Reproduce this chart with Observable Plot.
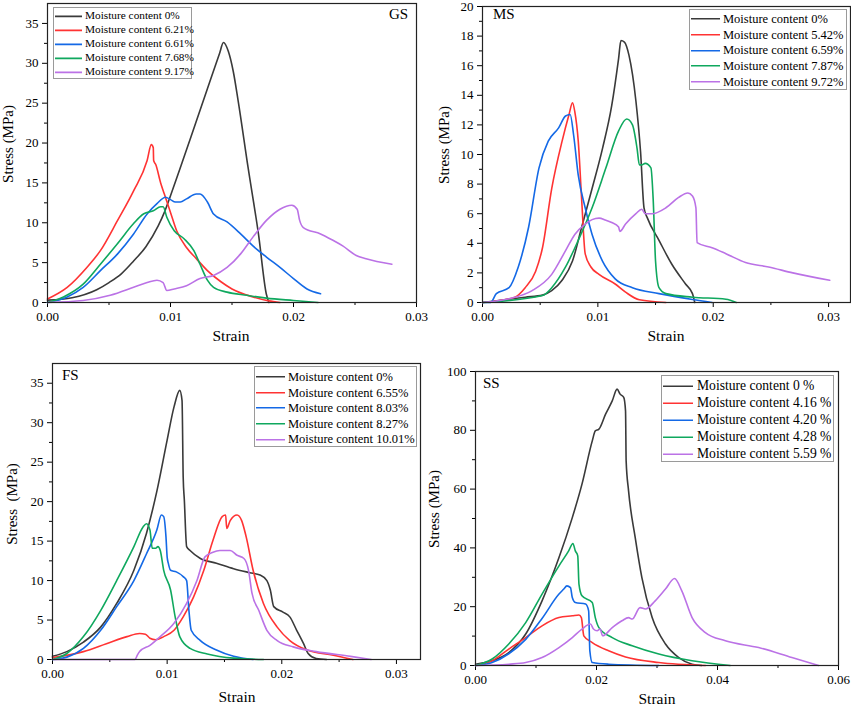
<!DOCTYPE html>
<html><head><meta charset="utf-8">
<script src="https://cdn.jsdelivr.net/npm/d3@7"></script>
<script src="https://cdn.jsdelivr.net/npm/@observablehq/plot@0.6"></script>
<style>
body{margin:0;background:#fff;}
#wrap{position:relative;width:851px;height:707px;font-family:"Liberation Serif","Times New Roman",Times,serif;color:#000;overflow:hidden;}
#wrap div, #wrap span{font-family:"Liberation Serif","Times New Roman",Times,serif;font-weight:normal;}
#wrap svg text{font-family:"Liberation Serif","Times New Roman",Times,serif !important;}
.pl{position:absolute;}
.pl svg{overflow:visible;}
.lbl{position:absolute;white-space:nowrap;font-size:15px;line-height:1;}
.ylab{position:absolute;white-space:nowrap;font-size:15px;line-height:1;transform:translate(-50%,-50%) rotate(-90deg);}
.leg{position:absolute;border:1px solid #9a9a9a;background:#fff;box-sizing:border-box;}
.row{position:absolute;left:0;white-space:nowrap;display:flex;align-items:center;line-height:1;}
</style></head>
<body><div id="wrap"></div>
<script>
const colors = ["#3a3a3a", "#ff3333", "#1469e6", "#0fa85e", "#bb72e6"];

// ---- GS ----
const gsLabels = ["Moisture content 0%","Moisture content 6.21%","Moisture content 6.61%","Moisture content 7.68%","Moisture content 9.17%"];
const gs0 = [[0,0.3],[0.002,0.6],[0.004,1.6],[0.005,2.5],[0.006,3.6],[0.007,5.2],[0.008,7.0],[0.009,9.6],[0.0095,11.3],[0.010,13.4],[0.011,17.8],[0.012,22.3],[0.013,26.8],[0.014,31.3],[0.0143,32.6],[0.0147,31.5],[0.0151,29.0],[0.0155,25.3],[0.0163,17.0],[0.01715,8.6],[0.0178,1.0],[0.018,0]];
const gs1 = [[0,0.45],[0.0016,1.9],[0.0032,4.4],[0.0043,6.5],[0.0057,10.3],[0.007,14],[0.0081,17.8],[0.00844,19.8],[0.0086,19.4],[0.00863,17.8],[0.0088,17.3],[0.0092,15.0],[0.0095,13.6],[0.0100,11.3],[0.0105,9.0],[0.0113,6.9],[0.0121,5.5],[0.013,4.0],[0.0141,2.6],[0.015,1.7],[0.0167,0.7],[0.018,0.2],[0.0189,0]];
const gs2 = [[0,0],[0.0016,0.7],[0.0029,1.9],[0.0043,4],[0.0057,6.1],[0.007,8.6],[0.0081,11.1],[0.0089,12.4],[0.0096,13.2],[0.0100,12.9],[0.0104,12.6],[0.0108,12.6],[0.0113,13.0],[0.0121,13.6],[0.0124,13.6],[0.0130,12.6],[0.0135,11.1],[0.0146,10.1],[0.0157,8.6],[0.0167,7.1],[0.0178,5.7],[0.0189,4.4],[0.02,3.0],[0.0211,1.7],[0.0222,1.1]];
const gs3 = [[0,0],[0.0013,0.7],[0.0029,2.3],[0.0043,4.8],[0.0057,7.4],[0.007,9.9],[0.0078,11.1],[0.0081,11.3],[0.0086,11.5],[0.0092,12.0],[0.0094,12.0],[0.0097,10.7],[0.0103,9.0],[0.0111,8.0],[0.0119,6.5],[0.0124,4.8],[0.013,2.8],[0.0135,1.9],[0.0146,1.3],[0.0162,0.9],[0.0178,0.55],[0.02,0.25],[0.022,0]];
const gs4 = [[0,0],[0.0029,0.25],[0.0051,0.9],[0.007,1.9],[0.0081,2.5],[0.0089,2.8],[0.0094,2.5],[0.0097,1.5],[0.0103,1.7],[0.0113,2.1],[0.0124,3.0],[0.0135,3.4],[0.0146,4.4],[0.0157,6.1],[0.0167,8.2],[0.0178,10.3],[0.0189,11.7],[0.01986,12.2],[0.0203,11.7],[0.0205,10.3],[0.0208,9.4],[0.0222,8.6],[0.0232,7.8],[0.024,7.1],[0.0251,5.9],[0.0259,5.5],[0.028,4.8]];

// ---- MS ----
const msLabels = ["Moisture content 0%","Moisture content 5.42%","Moisture content 6.59%","Moisture content 7.87%","Moisture content 9.72%"];
const ms0 = [[0,0],[0.0014,0.14],[0.0037,0.36],[0.0052,0.5],[0.006,0.8],[0.0069,1.5],[0.0078,2.8],[0.0086,5.1],[0.0095,7.7],[0.0104,10.4],[0.0112,13.3],[0.0118,16.5],[0.012,17.7],[0.0123,17.6],[0.0127,16.7],[0.0133,13.6],[0.0137,10.2],[0.014,6.4],[0.0143,5.7],[0.0153,4.2],[0.0164,2.6],[0.0176,1.25],[0.0182,0.6],[0.0184,0]];
const ms1 = [[0,0],[0.0028,0.36],[0.0037,1.0],[0.0046,2.1],[0.0052,3.7],[0.006,7.7],[0.0069,10.9],[0.0075,12.7],[0.0078,13.5],[0.008,12.9],[0.0083,10.9],[0.0086,6.9],[0.0089,3.3],[0.0094,2.4],[0.0101,1.9],[0.0115,1.25],[0.0124,0.7],[0.0136,0.18],[0.0159,0]];
const ms2 = [[0,0],[0.0007,0],[0.0012,0.6],[0.0023,1.0],[0.0031,2.4],[0.004,5.1],[0.0049,9.1],[0.0057,10.9],[0.0066,11.8],[0.0072,12.6],[0.0076,12.7],[0.0079,11.3],[0.0083,8.6],[0.0089,6.4],[0.0095,4.6],[0.0104,2.8],[0.0115,1.6],[0.013,1.0],[0.0153,0.6],[0.0182,0.2],[0.0199,0]];
const ms3 = [[0,0],[0.0052,0.47],[0.006,1.0],[0.0072,2.4],[0.0083,4.2],[0.0095,6.4],[0.0107,9.1],[0.0118,11.6],[0.0125,12.4],[0.013,12.0],[0.0134,10.4],[0.0136,9.3],[0.0138,9.3],[0.0141,9.4],[0.0146,9.1],[0.0148,6.9],[0.015,2.8],[0.0153,1.0],[0.0159,0.6],[0.0182,0.36],[0.0211,0.22],[0.022,0]];
const ms4 = [[0,0],[0.0023,0.25],[0.0043,0.8],[0.006,1.9],[0.0072,3.5],[0.008,4.6],[0.0089,5.3],[0.0095,5.6],[0.0101,5.7],[0.0107,5.55],[0.0112,5.4],[0.0118,5.1],[0.0119,4.8],[0.0124,5.3],[0.0133,6.0],[0.0138,6.3],[0.0141,6.0],[0.0147,6.0],[0.0159,6.4],[0.017,7.1],[0.0178,7.4],[0.0182,7.2],[0.0185,6.4],[0.0186,4.05],[0.0199,3.7],[0.0211,3.3],[0.0228,2.7],[0.0248,2.4],[0.0269,2.0],[0.0301,1.5]];

// ---- FS ----
const fsLabels = ["Moisture content 0%","Moisture content 6.55%","Moisture content 8.03%","Moisture content 8.27%","Moisture content 10.01%"];
const fs0 = [[0,0.4],[0.00125,1.0],[0.0027,2.2],[0.0042,4.1],[0.0056,7.1],[0.0071,11.3],[0.0082,16],[0.0091,21.3],[0.01,27.8],[0.0106,32],[0.0111,34.1],[0.0113,32.8],[0.0114,23.1],[0.0115,20.2],[0.0117,14.3],[0.012,13.8],[0.0129,12.8],[0.0143,12.2],[0.0158,11.5],[0.0172,11.0],[0.0181,10.7],[0.0187,10.0],[0.019,8.8],[0.0193,6.7],[0.0201,6.0],[0.0207,5.4],[0.0213,3.7],[0.0219,2.0],[0.0223,0.76],[0.023,0.13],[0.0239,0]];
const fs1 = [[0,0.25],[0.0027,1.0],[0.0047,2.0],[0.0065,2.9],[0.0076,3.3],[0.0081,3.2],[0.0085,2.7],[0.009,2.5],[0.0097,2.9],[0.0106,3.7],[0.0114,5.4],[0.0123,7.9],[0.0132,11.3],[0.014,15.1],[0.0148,18.1],[0.0151,18.3],[0.0152,16.6],[0.0155,17.6],[0.0161,18.3],[0.0165,17.6],[0.0169,15.5],[0.0175,11.3],[0.0184,7.1],[0.0196,4.1],[0.0207,2.4],[0.0222,1.2],[0.0245,0.55],[0.0262,0]];
const fs2 = [[0,0],[0.00125,0.3],[0.0027,1.4],[0.0042,3.7],[0.0056,6.7],[0.0071,10.0],[0.0082,13.4],[0.0091,16.4],[0.0095,18.3],[0.0097,18.1],[0.0099,15.5],[0.01,13.0],[0.0101,12.2],[0.0103,11.3],[0.0108,11.1],[0.0114,10.5],[0.0117,10.0],[0.0119,6.2],[0.0121,3.7],[0.0129,2.4],[0.0143,1.2],[0.0158,0.4],[0.0175,0]];
const fs3 = [[0,0],[0.00125,0.76],[0.0027,2.9],[0.0042,6.2],[0.0056,10.0],[0.0071,14.3],[0.0079,16.8],[0.0082,17.2],[0.0085,16.4],[0.0087,14.1],[0.009,14.1],[0.0092,14.3],[0.0094,13.8],[0.0097,11.3],[0.0103,8.8],[0.0107,5.4],[0.0111,2.9],[0.012,1.4],[0.0135,0.7],[0.0158,0.17],[0.0184,0]];
const fs4 = [[0,0],[0.0072,0],[0.0074,0.55],[0.0076,1.0],[0.0085,1.8],[0.0094,2.9],[0.0106,4.6],[0.0117,7.1],[0.0126,10.0],[0.0133,13.0],[0.014,13.6],[0.0146,13.8],[0.0155,13.8],[0.0161,13.2],[0.0167,12.8],[0.0171,11.3],[0.0174,8.4],[0.018,6.2],[0.0187,3.7],[0.0196,2.4],[0.021,1.6],[0.023,1.0],[0.026,0.4],[0.0278,0]];

// ---- SS ----
const ssLabels = ["Moisture content 0 %","Moisture content 4.16 %","Moisture content 4.20 %","Moisture content 4.28 %","Moisture content 5.59 %"];
const ss0 = [[0,0.45],[0.00275,1.6],[0.0055,4.4],[0.0083,10.7],[0.011,22],[0.0138,36.7],[0.016,50.3],[0.0176,61.7],[0.0193,76.4],[0.0198,79.8],[0.0204,80.4],[0.0215,85.5],[0.0226,90],[0.0234,94],[0.0239,92.3],[0.0245,91.2],[0.0248,86.6],[0.0249,69.6],[0.0253,59.4],[0.0264,43.5],[0.0275,29.9],[0.0292,16.3],[0.0314,7.3],[0.0336,2.7],[0.0358,0.45],[0.0374,0]];
const ss1 = [[0,0],[0.00275,1.6],[0.0055,5.6],[0.0083,9.5],[0.011,13.5],[0.0138,16.3],[0.016,16.9],[0.0171,17.2],[0.0175,16.3],[0.0179,10.1],[0.0193,7.8],[0.022,5.0],[0.0248,2.9],[0.0303,1.0],[0.038,0]];
const ss2 = [[0,0],[0.00275,1.0],[0.0055,4.0],[0.0083,8.9],[0.011,16.0],[0.0138,24.3],[0.0146,26],[0.0151,27.1],[0.0157,26.5],[0.016,23.1],[0.0165,21.4],[0.0182,20.9],[0.0187,18.6],[0.0189,5.0],[0.0193,1.0],[0.022,0.45],[0.0303,0]];
const ss3 = [[0,0],[0.00275,2.2],[0.0055,7.3],[0.0083,14.6],[0.011,24.3],[0.0138,33.9],[0.0154,39],[0.0161,41.5],[0.0165,39],[0.0169,37.3],[0.0171,27.7],[0.0176,23.7],[0.0193,21.4],[0.0198,16.3],[0.0204,12.9],[0.0226,9.5],[0.0259,6.7],[0.0303,3.9],[0.0358,1.6],[0.0421,0]];
const ss4 = [[0,0],[0.0055,0.45],[0.0083,1.0],[0.011,2.7],[0.0138,6.1],[0.016,9.5],[0.0176,12.4],[0.019,14.1],[0.0195,12.4],[0.0201,11.8],[0.0206,12.4],[0.021,10.1],[0.0226,12.9],[0.0242,15.2],[0.0253,16.3],[0.0259,15.8],[0.0272,19.7],[0.0281,19.2],[0.0297,22.0],[0.0314,26.0],[0.0329,29.6],[0.0341,25.4],[0.0358,16.3],[0.038,11.2],[0.0413,8.4],[0.0468,6.1],[0.0523,2.7],[0.0567,0]];

const FONT = '"Liberation Serif", "Times New Roman", Times, serif';
const wrap = document.getElementById("wrap");

function addDiv(cls, text, css){
  const d = document.createElement("div");
  d.className = cls; d.textContent = text;
  Object.assign(d.style, css); wrap.appendChild(d); return d;
}

function panel(cfg){
  const data = cfg.series.flatMap((s, i) => s.map(([x, y]) => ({x, y, s: cfg.labels[i]})));
  const svg = Plot.plot({
    width: cfg.w, height: cfg.h,
    marginLeft: cfg.ml, marginRight: cfg.mr, marginTop: cfg.mt, marginBottom: cfg.mb,
    style: {fontFamily: FONT, fontSize: "13px", background: "transparent", color: "#000", overflow: "visible"},
    x: {domain: cfg.xdom},
    y: {domain: cfg.ydom},
    color: {domain: cfg.labels, range: colors},
    marks: [
      Plot.axisX(cfg.xminor, {tickSize: 3, tickFormat: () => "", label: null, strokeWidth: 1}),
      Plot.axisX(cfg.xticks, {tickSize: 5, tickPadding: 4, tickFormat: d3.format(".2f"), label: null, fontSize: 13, strokeWidth: 1}),
      Plot.axisY(cfg.yminor, {tickSize: 3, tickFormat: () => "", label: null, strokeWidth: 1}),
      Plot.axisY(cfg.yticks, {tickSize: 5, tickPadding: 4, label: null, fontSize: 13, strokeWidth: 1}),
      Plot.line(data, {x: "x", y: "y", z: "s", stroke: "s", strokeWidth: 1.6, curve: "monotone-x"}),
      Plot.frame({stroke: "#222", strokeWidth: 1.2})
    ]
  });
  svg.setAttribute("font-family", FONT);
  const holder = document.createElement("div");
  holder.className = "pl";
  holder.style.left = cfg.left + "px"; holder.style.top = cfg.top + "px";
  holder.appendChild(svg);
  wrap.appendChild(holder);

  addDiv("lbl", "Strain", {left: cfg.xlab[0] + "px", top: cfg.xlab[1] + "px", transform: "translate(-50%,-100%)", fontSize: "15.5px"});
  addDiv("ylab", cfg.ytext, {left: cfg.ylab[0] + "px", top: cfg.ylab[1] + "px"});
  addDiv("lbl", cfg.name, {left: cfg.nameAt[0] + "px", top: cfg.nameAt[1] + "px", transform: "translateY(-100%)", fontSize: "15px"});

  const L = cfg.legend;
  const leg = document.createElement("div");
  leg.className = "leg";
  Object.assign(leg.style, {left: L.x + "px", top: L.y + "px", width: L.w + "px", height: L.h + "px"});
  cfg.labels.forEach((lab, i) => {
    const r = document.createElement("div");
    r.className = "row";
    r.style.top = (L.first + i * L.step - L.y) + "px";
    r.style.left = "1px";
    r.style.transform = "translateY(-50%)";
    r.style.fontSize = L.fs + "px";
    r.innerHTML = `<svg width="${L.sw}" height="6" style="margin-right:${L.gap}px"><line x1="0" x2="${L.sw}" y1="3" y2="3" stroke="${colors[i]}" stroke-width="1.6"/></svg>`;
    const t = document.createElement("span"); t.textContent = lab; r.appendChild(t);
    leg.appendChild(r);
  });
  wrap.appendChild(leg);
}

panel({name: "GS", nameAt: [389, 22], left: 0, top: 0, w: 425, h: 350, ml: 47, mr: 9, mt: 3, mb: 48,
  xdom: [0, 0.03], xticks: [0, 0.01, 0.02, 0.03], xminor: [0.005, 0.015, 0.025],
  ydom: [0, 37.5], yticks: d3.range(0, 36, 5), yminor: d3.range(2.5, 37, 5),
  series: [gs0, gs1, gs2, gs3, gs4], labels: gsLabels,
  xlab: [231, 343], ylab: [8, 144], ytext: "Stress (MPa)",
  legend: {x: 53, y: 7, w: 139, h: 72, first: 15, step: 14, fs: 11.3, sw: 27, gap: 3}});

panel({name: "MS", nameAt: [493, 22], left: 425, top: 0, w: 426, h: 350, ml: 57, mr: 1, mt: 6, mb: 48,
  xdom: [0, 0.0319], xticks: [0, 0.01, 0.02, 0.03], xminor: [0.005, 0.015, 0.025],
  ydom: [0, 20], yticks: d3.range(0, 21, 2), yminor: d3.range(1, 20, 2),
  series: [ms0, ms1, ms2, ms3, ms4], labels: msLabels,
  xlab: [666, 343], ylab: [444, 145], ytext: "Stress (MPa)",
  legend: {x: 689, y: 9, w: 158, h: 81, first: 18, step: 15.7, fs: 12.5, sw: 29, gap: 3}});

panel({name: "FS", nameAt: [62, 383], left: 0, top: 350, w: 425, h: 357, ml: 52, mr: 5, mt: 13, mb: 48,
  xdom: [0, 0.0321], xticks: [0, 0.01, 0.02, 0.03], xminor: [0.005, 0.015, 0.025],
  ydom: [0, 37.5], yticks: d3.range(0, 36, 5), yminor: d3.range(2.5, 37, 5),
  series: [fs0, fs1, fs2, fs3, fs4], labels: fsLabels,
  xlab: [237, 704], ylab: [12, 504], ytext: "Stress\u00a0 (MPa)",
  legend: {x: 254, y: 366, w: 163, h: 81, first: 376, step: 15.6, fs: 12.5, sw: 29, gap: 3}});

panel({name: "SS", nameAt: [483, 391], left: 425, top: 350, w: 426, h: 357, ml: 50, mr: 13, mt: 21, mb: 42,
  xdom: [0, 0.06], xticks: [0, 0.02, 0.04, 0.06], xminor: [0.01, 0.03, 0.05],
  ydom: [0, 100], yticks: d3.range(0, 101, 20), yminor: d3.range(10, 100, 20),
  series: [ss0, ss1, ss2, ss3, ss4], labels: ssLabels,
  xlab: [657, 706], ylab: [434, 509], ytext: "Stress (MPa)",
  legend: {x: 661, y: 375, w: 173, h: 87, first: 385, step: 17, fs: 13.6, sw: 30, gap: 4}});
</script>
</body></html>
